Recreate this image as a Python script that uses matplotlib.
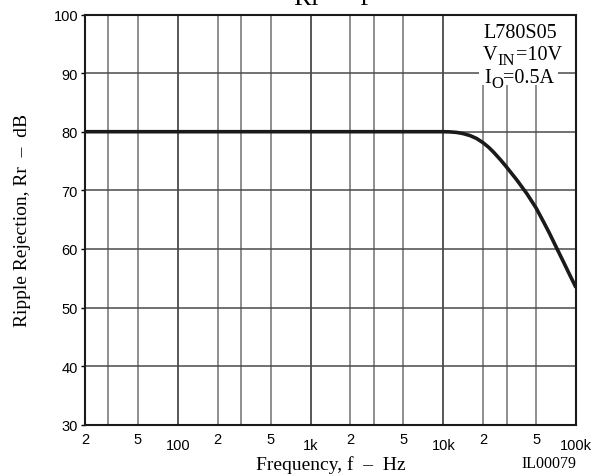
import numpy as np
import matplotlib
matplotlib.use("Agg")
import matplotlib.pyplot as plt

# Data
freq_hz = [20, 100, 1000, 5000, 8000, 10000, 11200, 12600, 14100, 15900, 17800, 20000,
           22000, 24000, 27000, 30000, 36000, 42700, 50000, 57000, 63000, 72000,
           80000, 90000, 100000]
rr_db = [80, 80, 80, 80, 80, 80, 79.97, 79.88, 79.68, 79.34, 78.85, 78.1,
         77.33, 76.48, 75.2, 73.96, 71.7, 69.4, 67.0, 64.6, 62.7, 60.0,
         57.9, 55.5, 53.4]

x_minor_ticks = [20, 50, 200, 500, 2000, 5000, 20000, 50000]
x_minor_labels = ["2", "5", "2", "5", "2", "5", "2", "5"]
x_major_ticks = [100, 1000, 10000, 100000]
x_major_labels = ["100", "1k", "10k", "100k"]
x_grid = [30, 300, 3000, 30000]
y_ticks = [30, 40, 50, 60, 70, 80, 90, 100]

serif = "Liberation Serif"
sans = "Liberation Sans"

fig = plt.figure(figsize=(6.06, 4.77), dpi=100)
ax = fig.add_axes([85/606, 1-425.7/477, (576-85)/606, (425.7-15.5)/477])
ax.set_xscale("log")
ax.set_xlim(20, 100000)
ax.set_ylim(30, 100)

for v in x_minor_ticks + x_grid:
    ax.axvline(v, color="#707070", lw=1.1, zorder=1)
for v in x_major_ticks:
    ax.axvline(v, color="#2a2a2a", lw=1.1, zorder=1)
for v in y_ticks:
    ax.axhline(v, color="#4a4a4a", lw=1.1, zorder=1)

ax.plot(freq_hz, rr_db, color="#1a1a1a", lw=2.6, zorder=3, solid_capstyle="butt",
        solid_joinstyle="round")

ax.set_xticks(x_minor_ticks)
ax.set_xticklabels(x_minor_labels)
ax.set_xticks(x_major_ticks, minor=True)
ax.set_xticklabels(x_major_labels, minor=True)
ax.tick_params(axis="x", which="major", length=0, pad=5, labelsize=10.5)
ax.tick_params(axis="x", which="minor", length=0, pad=9.5, labelsize=10.5)
for lab in ax.get_xticklabels(which="both"):
    lab.set_fontfamily(sans)
ax.set_yticks(y_ticks)
ax.tick_params(axis="y", length=3, width=1, pad=2, labelsize=10.5)
for lab in ax.get_yticklabels():
    lab.set_fontfamily(sans)

for s in ax.spines.values():
    s.set_linewidth(1.5)
    s.set_color("#1a1a1a")

ax.set_ylabel("Ripple Rejection, Rr  \u2013  dB", fontfamily=serif, fontsize=14, labelpad=16)
ax.set_xlabel("Frequency, f  \u2013  Hz", fontfamily=serif, fontsize=14)
ax.xaxis.set_label_coords(331/606, 1-470/477, transform=fig.transFigure)
ax.xaxis.label.set_va("baseline")

fig.text(331/606, 1-5/477, "Rr  \u2013  f", fontfamily=serif, fontsize=19, ha="center", va="baseline")
fig.text(576/606, 1-468/477, "IL00079", fontfamily=serif, fontsize=11.5, ha="right", va="baseline")

# annotation box
ax.add_patch(plt.Rectangle((0.803, 0.827), 0.160, 0.173, transform=ax.transAxes,
                           facecolor="white", edgecolor="none", zorder=2))

renderer = fig.canvas.get_renderer()


def seq_text(x_px, y_px, parts):
    """parts: list of (string, fontsize, dy_px)"""
    cur = x_px
    for s, fs, dy in parts:
        t = fig.text(cur/606, 1-(y_px+dy)/477, s, fontfamily=serif, fontsize=fs,
                     va="baseline", ha="left", zorder=5)
        bb = t.get_window_extent(renderer=renderer)
        cur = bb.x1 + 0.3


fs = 14.5
seq_text(483, 38, [("L780S05", fs, 0)])
seq_text(483, 60, [("V", fs, 0), ("IN", 12, 5), ("=10V", fs, 0)])
seq_text(484, 83, [("I", fs, 0), ("O", 12, 5), ("=0.5A", fs, 0)])

fig.savefig("out.png", dpi=100)
